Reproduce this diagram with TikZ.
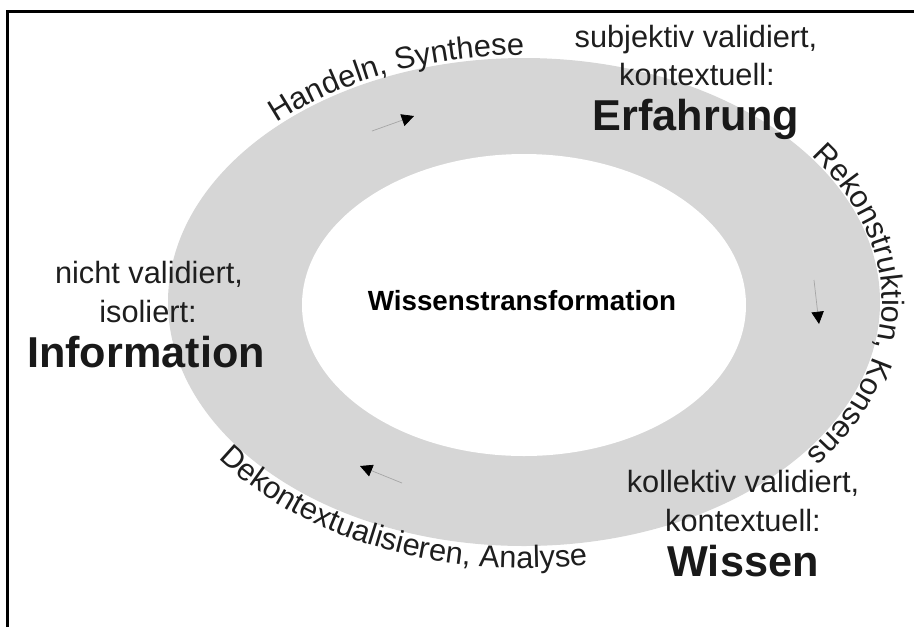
\documentclass[tikz,border=0pt]{standalone}
\usepackage{fontspec}
\setmainfont{Liberation Sans}
\usetikzlibrary{arrows.meta,calc,decorations.text}
\definecolor{RingGray}{RGB}{214,214,214}
\definecolor{InkGray}{RGB}{30,30,30}
\newcommand{\arcfont}{\fontsize{17.5}{21}\selectfont\color{InkGray}}

\begin{document}
\begin{tikzpicture}[x=0.02cm,y=0.02cm,
  note/.style={font=\fontsize{17.5}{21}\selectfont,text=InkGray,inner sep=0pt,anchor=base},
  stage/.style={font=\fontsize{24.6}{29}\selectfont\bfseries,text=black!90,inner sep=0pt,anchor=base},
  arcnote/.style={decorate,decoration={text along path,text align={left indent=0pt},text={#1}}},
  flow/.style={line width=0.4pt,gray!70,-{Triangle[length=7pt,width=7pt,color=black]}}
]
  \useasboundingbox (0,0) rectangle (914,-627);
  % frame, only top and left edge show
  \draw[line width=1.7pt] (7.5,-627) |- (914,-11.5);

  % ring
  \coordinate (outerC) at (524,-302);
  \coordinate (innerC) at (524,-305);
  \fill[RingGray] (outerC) ellipse [x radius=356, y radius=244];
  \fill[white] (innerC) ellipse [x radius=222, y radius=151];
  \node[font=\fontsize{15.8}{19}\selectfont\bfseries,inner sep=0pt,anchor=base] (wt) at (522,-310) {Wissenstransformation};

  % the three stages
  \node[note] (erf1) at (696,-47) {subjektiv validiert,};
  \node[note] (erf2) at (697,-85) {kontextuell:};
  \node[stage] (erf) at (696,-130) {Erfahrung};
  \node[note] (inf1) at (149,-283) {nicht validiert,};
  \node[note] (inf2) at (148,-322) {isoliert:};
  \node[stage] (inf) at (146,-367) {Information};
  \node[note] (wis1) at (743,-492) {kollektiv validiert,};
  \node[note] (wis2) at (743,-531) {kontextuell:};
  \node[stage] (wis) at (743,-576) {Wissen};

  % labels along the ring
  \path[arcnote={|\arcfont|Handeln{,} Synthese}] ($(outerC)+(133.5:359 and 247)$) arc[start angle=133.5, end angle=80, x radius=359, y radius=247];
  \path[arcnote={|\arcfont|Rekonstruktion{,} Konsens}] ($(outerC)+(36.5:358 and 246)$) arc[start angle=36.5, end angle=-50, x radius=358, y radius=246];
  \path[arcnote={|\arcfont|Dekontextualisieren{,} Analyse}] ($(outerC)+(216:378 and 266)$) arc[start angle=216, end angle=290, x radius=378, y radius=266];

  % small arrows in the ring
  \coordinate (synT) at (372,-131);
  \coordinate (synH) at (414,-116);
  \coordinate (konT) at (814,-280);
  \coordinate (konH) at (819,-324);
  \coordinate (anaT) at (402,-483);
  \coordinate (anaH) at (360,-466);
  \draw[flow] (synT) -- (synH);
  \draw[flow] (konT) -- (konH);
  \draw[flow] (anaT) -- (anaH);
\end{tikzpicture}
\end{document}
